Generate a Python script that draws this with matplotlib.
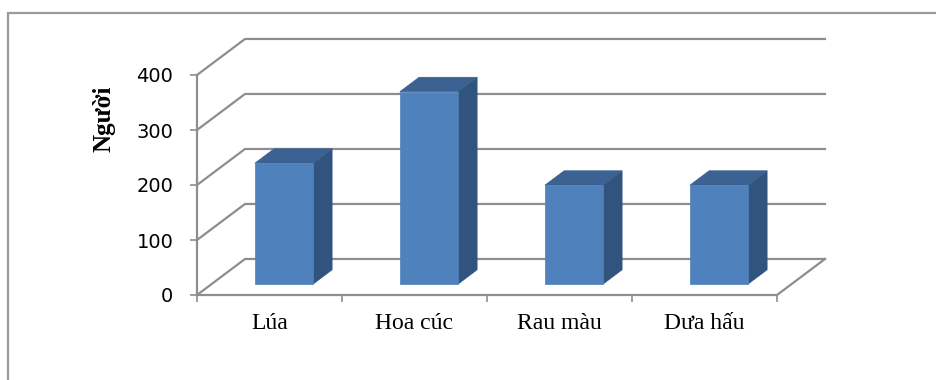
import matplotlib
matplotlib.use("Agg")
import matplotlib.pyplot as plt
from matplotlib.patches import Polygon, Rectangle

# data
categories = ["Lúa", "Hoa cúc", "Rau màu", "Dưa hấu"]
values = [220, 350, 180, 180]
yticks = [0, 100, 200, 300, 400]
ylabel = "Người"

# 3d look: depth offset of the back wall, in data units
DX = 0.331
DY = 65.5
GRID = "#8E8E8E"
FRONT = "#4F81BD"
SIDE = "#31547F"
TOP = "#3B6292"


def proj(x, y, z):
    return (x + z * DX, y + z * DY)


fig = plt.figure(figsize=(9.37, 3.8), dpi=100)
ax = fig.add_axes([197 / 937, 85 / 380, 580 / 937, 220 / 380])
ax.set_xlim(0, len(categories))
ax.set_ylim(0, 400)
for s in ax.spines.values():
    s.set_visible(False)
ax.patch.set_visible(False)

# outer frame
fig.patches.append(Rectangle((8 / 937, -0.1), 1.2, 0.1 + 367 / 380,
                             transform=fig.transFigure, fill=False,
                             edgecolor="#9A9A9A", lw=1.6))

n = len(categories)
# walls / gridlines
for v in yticks:
    x0, y0 = proj(0, v, 0)
    x1, y1 = proj(0, v, 1)
    x2, y2 = proj(n, v, 1)
    ax.plot([x0, x1, x2], [y0, y1, y2], color=GRID, lw=1.6, clip_on=False, zorder=1)
# floor front and right edges
fx0, fy0 = proj(0, 0, 0)
fx1, fy1 = proj(n, 0, 0)
fx2, fy2 = proj(n, 0, 1)
ax.plot([fx0, fx1, fx2], [fy0, fy1, fy2], color=GRID, lw=1.6, clip_on=False, zorder=1)
# y axis line
ax.plot([0, 0], [0, 400], color=GRID, lw=1.6, clip_on=False, zorder=1)

# bars
z0, z1 = 0.3, 0.7
w0, w1 = 0.3, 0.7
for i, v in enumerate(values):
    xa, xb = i + w0, i + w1
    front = [proj(xa, 0, z0), proj(xb, 0, z0), proj(xb, v, z0), proj(xa, v, z0)]
    side = [proj(xb, 0, z0), proj(xb, 0, z1), proj(xb, v, z1), proj(xb, v, z0)]
    top = [proj(xa, v, z0), proj(xb, v, z0), proj(xb, v, z1), proj(xa, v, z1)]
    ax.add_patch(Polygon(side, closed=True, facecolor=SIDE, edgecolor=SIDE, lw=0.5, zorder=3, clip_on=False))
    ax.add_patch(Polygon(top, closed=True, facecolor=TOP, edgecolor=TOP, lw=0.5, zorder=3, clip_on=False))
    ax.add_patch(Polygon(front, closed=True, facecolor=FRONT, edgecolor=FRONT, lw=0.5, zorder=4, clip_on=False))

# ticks
ax.set_yticks(yticks)
ax.set_yticklabels([str(t) for t in yticks], fontsize=14, family="DejaVu Sans")
ax.tick_params(axis="y", length=5, width=1.2, color=GRID, pad=12)

ax.set_xticks([i + 0.5 for i in range(n)])
ax.set_xticklabels(categories, fontsize=17, family="Liberation Serif")
ax.set_xticks(range(n + 1), minor=True)
ax.tick_params(axis="x", which="major", length=0, pad=13)
ax.tick_params(axis="x", which="minor", length=5, width=1.2, color=GRID)

ax.set_ylabel(ylabel, fontsize=18, fontweight="bold", family="Liberation Serif")
ax.yaxis.set_label_coords(-0.14, 0.80)

fig.savefig("out.png", dpi=100)
